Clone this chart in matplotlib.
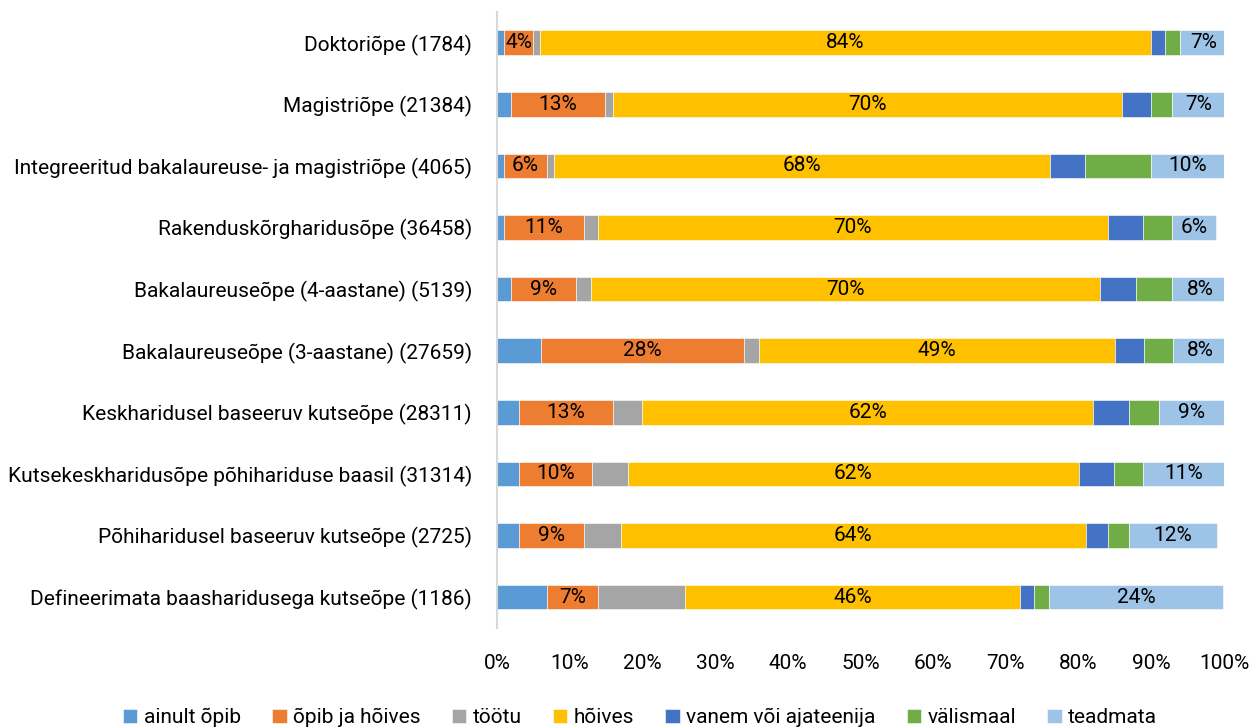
import matplotlib.pyplot as plt
import numpy as np

plt.rcParams['font.family'] = ['Roboto', 'DejaVu Sans']

categories = ["Doktoriõpe (1784)",
              "Magistriõpe (21384)",
              "Integreeritud bakalaureuse- ja magistriõpe (4065)",
              "Rakenduskõrgharidusõpe (36458)",
              "Bakalaureuseõpe (4-aastane) (5139)",
              "Bakalaureuseõpe (3-aastane) (27659)",
              "Keskharidusel baseeruv kutseõpe (28311)",
              "Kutsekeskharidusõpe põhihariduse baasil (31314)",
              "Põhiharidusel baseeruv kutseõpe (2725)",
              "Defineerimata baasharidusega kutseõpe (1186)"]

series = ["ainult õpib", "õpib ja hõives", "töötu", "hõives",
          "vanem või ajateenija", "välismaal", "teadmata"]

ainult_opib = [0.9, 1.9, 0.9, 0.9, 1.9, 6.0, 3.0, 3.0, 3.0, 6.9]
opib_hoives = [4.1, 13.0, 6.0, 11.0, 9.0, 28.0, 13.0, 10.0, 9.0, 7.0]
tootu = [0.9, 1.1, 1.0, 2.0, 2.0, 2.0, 4.0, 5.0, 5.0, 12.0]
hoives = [84.1, 70.0, 68.1, 70.1, 70.0, 49.0, 62.0, 62.0, 64.0, 46.0]
vanem = [1.9, 4.0, 4.9, 4.9, 5.0, 4.0, 5.0, 4.9, 3.0, 2.0]
valismaal = [2.0, 2.9, 9.1, 4.0, 5.0, 4.0, 4.0, 4.0, 3.0, 2.0]
teadmata = [6.6, 7.1, 10.0, 6.0, 7.6, 7.6, 9.0, 11.1, 12.0, 24.0]

colors = ['#5B9BD5', '#ED7D31', '#A5A5A5', '#FFC000', '#4472C4', '#70AD47', '#9DC3E6']
labelled = [False, True, False, True, False, False, True]

data = [ainult_opib, opib_hoives, tootu, hoives, vanem, valismaal, teadmata]

fs = 15

fig = plt.figure(figsize=(12.5, 7.28), dpi=100)
ax = fig.add_axes([0.3976, 0.1376, 0.5816, 0.846])

y = np.arange(len(categories))
left = np.zeros(len(categories))
for vals, name, col, lab in zip(data, series, colors, labelled):
    vals = np.array(vals)
    ax.barh(y, vals, left=left, height=0.4, color=col, label=name,
            edgecolor='white', linewidth=0.4)
    if lab:
        for i, v in enumerate(vals):
            ax.text(left[i] + v / 2, y[i], "%d%%" % round(v), ha='center',
                    va='center', fontsize=fs, color='black')
    left += vals

ax.set_ylim(len(categories) - 0.5, -0.5)
ax.set_xlim(0, 100)
ax.set_yticks(y)
ax.set_yticklabels(categories, fontsize=fs)
ax.set_xticks(np.arange(0, 101, 10))
ax.set_xticklabels(["%d%%" % t for t in range(0, 101, 10)], fontsize=fs)
ax.tick_params(axis='both', length=0)
ax.tick_params(axis='y', pad=18)
ax.tick_params(axis='x', pad=19)
for s in ['top', 'right', 'bottom']:
    ax.spines[s].set_visible(False)
ax.spines['left'].set_color('#D9D9D9')
ax.spines['left'].set_linewidth(1.5)

fig.legend(loc='lower center', bbox_to_anchor=(0.512, -0.025), ncol=7, frameon=False,
           fontsize=fs, handlelength=0.7, handleheight=0.7, handletextpad=0.3,
           columnspacing=1.5)

plt.savefig("out.png", dpi=100)
